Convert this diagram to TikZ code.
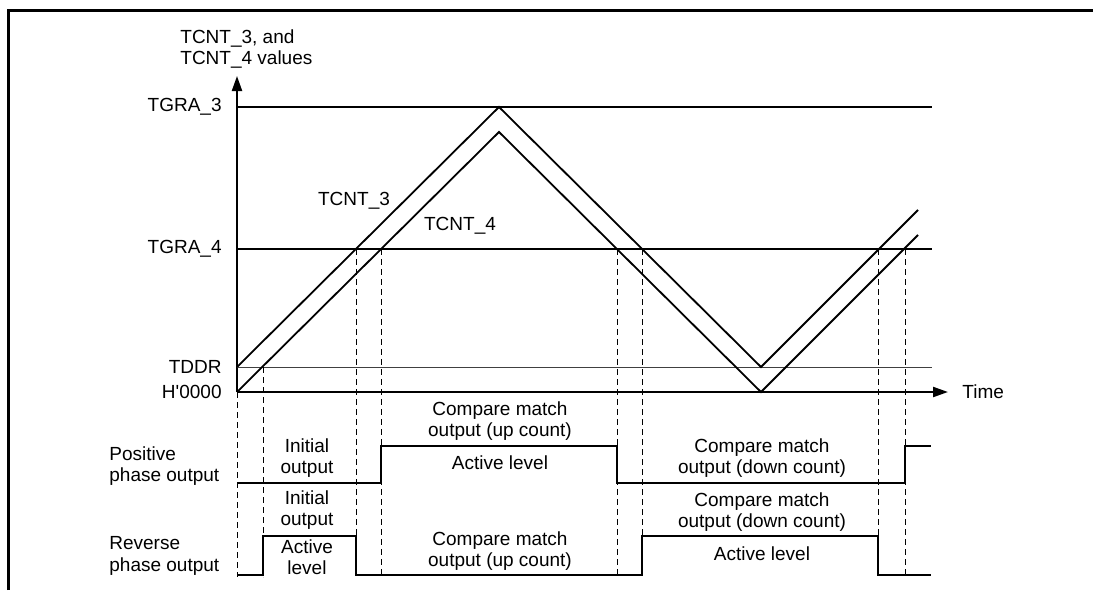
\documentclass[tikz,border=0pt]{standalone}
\usepackage{fontspec}
\setmainfont{Liberation Sans}
\usetikzlibrary{positioning, arrows.meta}

\begin{document}
\begin{tikzpicture}[x=0.5pt, y=-0.5pt, font=\fontsize{9.5}{10.8}\selectfont, >={Triangle[length=7.5pt, width=5pt]},
  t/.style={align=center, inner sep=0pt},
  ax/.style={line width=1.1pt},
  lvl/.style={line width=0.9pt},
  cnt/.style={line width=0.9pt},
  wave/.style={line width=1.1pt},
  guide/.style={line width=0.45pt, dash pattern=on 3pt off 2pt}]
  \useasboundingbox (0,0) rectangle (1093,590);
  \draw[line width=1.5pt] (8,590) -- (8,10) -- (1093,10);
  % axes
  \coordinate (o) at (237,392); \coordinate (ytop) at (237,76); \coordinate (xend) at (948,392);
  \draw[ax, ->] (o) -- (ytop); \draw[ax, ->] (o) -- (xend);
  \node[t, anchor=west, align=left] (yl) at (180,49) {TCNT\_3, and\\TCNT\_4 values};
  \node[t, anchor=west] (tl) at (962,392) {Time};
  % levels
  \node[t, anchor=east] (ga3) at (222,107) {TGRA\_3};
  \node[t, anchor=east] (ga4) at (222,249) {TGRA\_4};
  \node[t, anchor=east] (dd) at (222,367) {TDDR};
  \node[t, anchor=east] (zero) at (222,392) {H\textquotesingle0000};
  \draw[lvl] (237,107) -- (932,107);
  \draw[lvl] (237,249) -- (932,249);
  \draw[line width=0.5pt, black!75] (237,367) -- (932,367);
  % counters
  \draw[cnt] (237,367) -- (499,107) -- (761,367) -- (918,210);
  \draw[cnt] (237,392) -- (499,132) -- (761,392) -- (918,235);
  \node[t] (c3) at (354,201) {TCNT\_3};
  \node[t] (c4) at (460,226) {TCNT\_4};
  % compare match guides
  \draw[guide] (237,392) -- (237,577);
  \draw[guide] (263,367) -- (263,577);
  \foreach \gx in {356,381,617,642,878,905}
    \draw[guide] (\gx,249) -- (\gx,577);
  % outputs
  \node[t, anchor=west, align=left] (pos) at (109,466) {Positive\\phase output};
  \node[t, anchor=west, align=left] (rev) at (109,556) {Reverse\\phase output};
  \draw[wave] (238,483) -- (381,483) -- (381,446) -- (617,446) -- (617,483) -- (905,483) -- (905,446) -- (931,446);
  \draw[wave] (238,575) -- (263,575) -- (263,536) -- (356,536) -- (356,575) -- (642,575) -- (642,536) -- (878,536) -- (878,575) -- (931,575);
  \node[t] (pinit) at (307,458) {Initial\\output};
  \node[t] (pup) at (500,421) {Compare match\\output (up count)};
  \node[t] (pact) at (500,463) {Active level};
  \node[t] (pdown) at (762,458) {Compare match\\output (down count)};
  \node[t] (rinit) at (307,510) {Initial\\output};
  \node[t] (ract) at (307,557) {Active\\level};
  \node[t] (rup) at (500,551) {Compare match\\output (up count)};
  \node[t] (rdown) at (762,512) {Compare match\\output (down count)};
  \node[t] (ract2) at (762,554) {Active level};
\end{tikzpicture}
\end{document}
